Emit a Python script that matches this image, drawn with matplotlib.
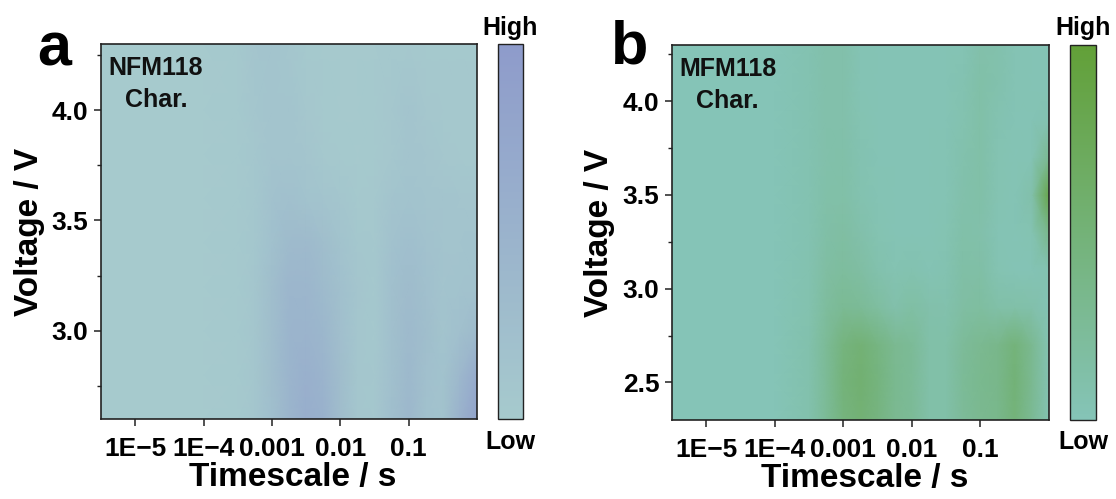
import numpy as np
import matplotlib
matplotlib.use("Agg")
import matplotlib.pyplot as plt
from matplotlib.colors import LinearSegmentedColormap

plt.rcParams['font.family'] = ['Liberation Sans', 'DejaVu Sans']
plt.rcParams['font.weight'] = 'bold'

# ---------------- data ----------------
# time grid (seconds) shared by both maps
timescale = [10**-5.5, 1e-4, 10**-3.5, 10**-3.25, 1e-3, 10**-2.75, 10**-2.5, 10**-2.25,
             1e-2, 10**-1.75, 10**-1.5, 10**-1.25, 1e-1, 10**-0.75, 10**-0.5, 10**-0.25, 1.0]

# panel a : NFM118 charge (relative intensity 0..1), rows = voltage
voltage_a = [2.6, 2.8, 3.0, 3.2, 3.4, 3.6, 3.8, 4.0, 4.3]
intensity_a = [
    [0, 0, 0.03, 0.08, 0.24, 0.45, 0.60, 0.52, 0.27, 0.08, 0.06, 0.24, 0.38, 0.20, 0.15, 0.50, 0.82],
    [0, 0, 0.03, 0.08, 0.26, 0.45, 0.55, 0.48, 0.27, 0.08, 0.06, 0.22, 0.36, 0.22, 0.15, 0.38, 0.65],
    [0, 0, 0.03, 0.08, 0.26, 0.45, 0.48, 0.40, 0.23, 0.08, 0.05, 0.22, 0.34, 0.25, 0.14, 0.22, 0.32],
    [0, 0, 0.03, 0.08, 0.26, 0.42, 0.42, 0.33, 0.22, 0.10, 0.05, 0.22, 0.30, 0.22, 0.14, 0.16, 0.18],
    [0, 0, 0.03, 0.07, 0.20, 0.33, 0.35, 0.25, 0.16, 0.07, 0.05, 0.18, 0.24, 0.18, 0.13, 0.14, 0.15],
    [0, 0, 0.03, 0.07, 0.18, 0.22, 0.16, 0.12, 0.08, 0.03, 0.04, 0.12, 0.16, 0.14, 0.12, 0.10, 0.10],
    [0, 0, 0.03, 0.07, 0.14, 0.14, 0.10, 0.05, 0.03, 0.02, 0.03, 0.06, 0.12, 0.10, 0.06, 0.05, 0.05],
    [0, 0, 0.03, 0.08, 0.13, 0.12, 0.06, 0.03, 0.02, 0.02, 0.03, 0.06, 0.12, 0.06, 0.04, 0.04, 0.04],
    [0, 0, 0.03, 0.10, 0.12, 0.08, 0.03, 0.02, 0.02, 0.02, 0.02, 0.04, 0.04, 0.03, 0.03, 0.03, 0.03],
]

# panel b : MFM118 charge
voltage_b = [2.3, 2.5, 2.7, 2.9, 3.1, 3.3, 3.5, 3.7, 3.9, 4.1, 4.3]
intensity_b = [
    [0, 0, 0.08, 0.25, 0.45, 0.52, 0.43, 0.30, 0.25, 0.12, 0.12, 0.24, 0.30, 0.34, 0.48, 0.28, 0.04],
    [0, 0, 0.08, 0.25, 0.48, 0.55, 0.45, 0.31, 0.25, 0.12, 0.12, 0.25, 0.32, 0.35, 0.50, 0.30, 0.04],
    [0, 0, 0.08, 0.25, 0.45, 0.52, 0.42, 0.30, 0.25, 0.12, 0.12, 0.24, 0.30, 0.35, 0.48, 0.30, 0.04],
    [0, 0, 0.07, 0.20, 0.28, 0.25, 0.18, 0.10, 0.15, 0.10, 0.08, 0.16, 0.18, 0.12, 0.12, 0.10, 0.02],
    [0, 0, 0.06, 0.16, 0.20, 0.16, 0.08, 0.04, 0.06, 0.03, 0.05, 0.14, 0.14, 0.04, 0.02, 0.02, 0.05],
    [0, 0, 0.05, 0.13, 0.16, 0.10, 0.04, 0.02, 0.02, 0.02, 0.04, 0.11, 0.10, 0.03, 0.02, 0.04, 0.35],
    [0, 0, 0.05, 0.11, 0.12, 0.06, 0.03, 0.02, 0.02, 0.02, 0.03, 0.10, 0.12, 0.04, 0.02, 0.10, 0.85],
    [0, 0, 0.05, 0.10, 0.11, 0.05, 0.02, 0.02, 0.02, 0.02, 0.03, 0.08, 0.12, 0.04, 0.02, 0.03, 0.30],
    [0, 0, 0.05, 0.10, 0.10, 0.04, 0.02, 0.02, 0.02, 0.02, 0.02, 0.06, 0.12, 0.05, 0.02, 0.02, 0.05],
    [0, 0, 0.05, 0.10, 0.10, 0.03, 0.02, 0.02, 0.02, 0.02, 0.02, 0.05, 0.12, 0.08, 0.03, 0.02, 0.02],
    [0, 0, 0.05, 0.10, 0.10, 0.03, 0.02, 0.02, 0.02, 0.02, 0.02, 0.03, 0.10, 0.08, 0.03, 0.02, 0.02],
]

xtick_values = [1e-5, 1e-4, 1e-3, 1e-2, 1e-1]
xtick_labels = ['1E\u22125', '1E\u22124', '0.001', '0.01', '0.1']
ytick_a = [3.0, 3.5, 4.0]
yminor_a = [2.75, 3.25, 3.75, 4.25]
ytick_b = [2.5, 3.0, 3.5, 4.0]
yminor_b = [2.75, 3.25, 3.75, 4.25]

cmap_a = LinearSegmentedColormap.from_list('a', ['#A6CACD', '#8E9BCB'])
cmap_b = LinearSegmentedColormap.from_list('b', ['#85C4B7', '#62A038'])

# ---------------- figure ----------------
W, H = 1116, 499
fig = plt.figure(figsize=(W / 100, H / 100), dpi=100)


def px(l, t, r, b):
    return [l / W, 1 - b / H, (r - l) / W, (b - t) / H]


def panel(ax_box, cb_box, volt, inten, cmap, ylim, yticks, yminor, name, letter, letter_xy):
    ax = fig.add_axes(px(*ax_box))
    X, Y = np.meshgrid(timescale, volt)
    Z = np.array(inten)
    m = ax.pcolormesh(X, Y, Z, shading='gouraud', cmap=cmap, vmin=0, vmax=1, rasterized=True)
    ax.set_xscale('log')
    ax.set_xticks(xtick_values)
    ax.set_xticklabels(xtick_labels)
    ax.xaxis.set_minor_locator(matplotlib.ticker.NullLocator())
    ax.set_yticks(yticks)
    ax.set_yticklabels([f'{v:.1f}' for v in yticks])
    ax.set_yticks(yminor, minor=True)
    ax.set_xlim(10**-5.5, 1.0)
    ax.set_ylim(*ylim)
    ax.tick_params(axis='both', which='major', direction='out', length=5, width=1.1,
                   labelsize=19, pad=4, color='#222222')
    ax.tick_params(axis='x', which='major', pad=8)
    ax.tick_params(axis='y', which='minor', direction='out', length=3, width=1.0, color='#222222')
    for lab in ax.get_xticklabels() + ax.get_yticklabels():
        lab.set_fontweight('bold')
    for s in ax.spines.values():
        s.set_linewidth(1.2)
        s.set_color('#222222')
    ax.set_xlabel('Timescale / s', fontsize=24, fontweight='bold')
    ax.set_ylabel('Voltage / V', fontsize=24, fontweight='bold')
    ax.xaxis.set_label_coords(0.51, -0.115)
    ax.yaxis.set_label_coords(-0.15, 0.5)
    ax.text(0.019, 0.917, name, transform=ax.transAxes, fontsize=18, fontweight='bold',
            ha='left', va='baseline', color='#111111')
    ax.text(0.063, 0.832, 'Char.', transform=ax.transAxes, fontsize=18, fontweight='bold',
            ha='left', va='baseline', color='#111111')

    cax = fig.add_axes(px(*cb_box))
    cb = fig.colorbar(m, cax=cax)
    cb.set_ticks([])
    cb.outline.set_linewidth(1.0)
    cb.outline.set_edgecolor('#222222')
    cx = (cb_box[0] + cb_box[2]) / 2 / W
    fig.text(cx, 1 - 35 / H, 'High', ha='center', va='baseline', fontsize=18, fontweight='bold')
    fig.text(cx, 1 - 449 / H, 'Low', ha='center', va='baseline', fontsize=18, fontweight='bold')
    fig.text(letter_xy[0] / W, 1 - letter_xy[1] / H, letter, ha='left', va='baseline',
             fontsize=44, fontweight='bold')
    return ax


panel((101, 44, 477, 419), (498, 44, 523, 419), voltage_a, intensity_a, cmap_a,
      (2.6, 4.3), ytick_a, yminor_a, 'NFM118', 'a', (37, 66))
panel((672, 45, 1049, 420), (1070, 45, 1096, 420), voltage_b, intensity_b, cmap_b,
      (2.3, 4.3), ytick_b, yminor_b, 'MFM118', 'b', (611, 64))

fig.savefig('out.png', dpi=100, facecolor='white')
